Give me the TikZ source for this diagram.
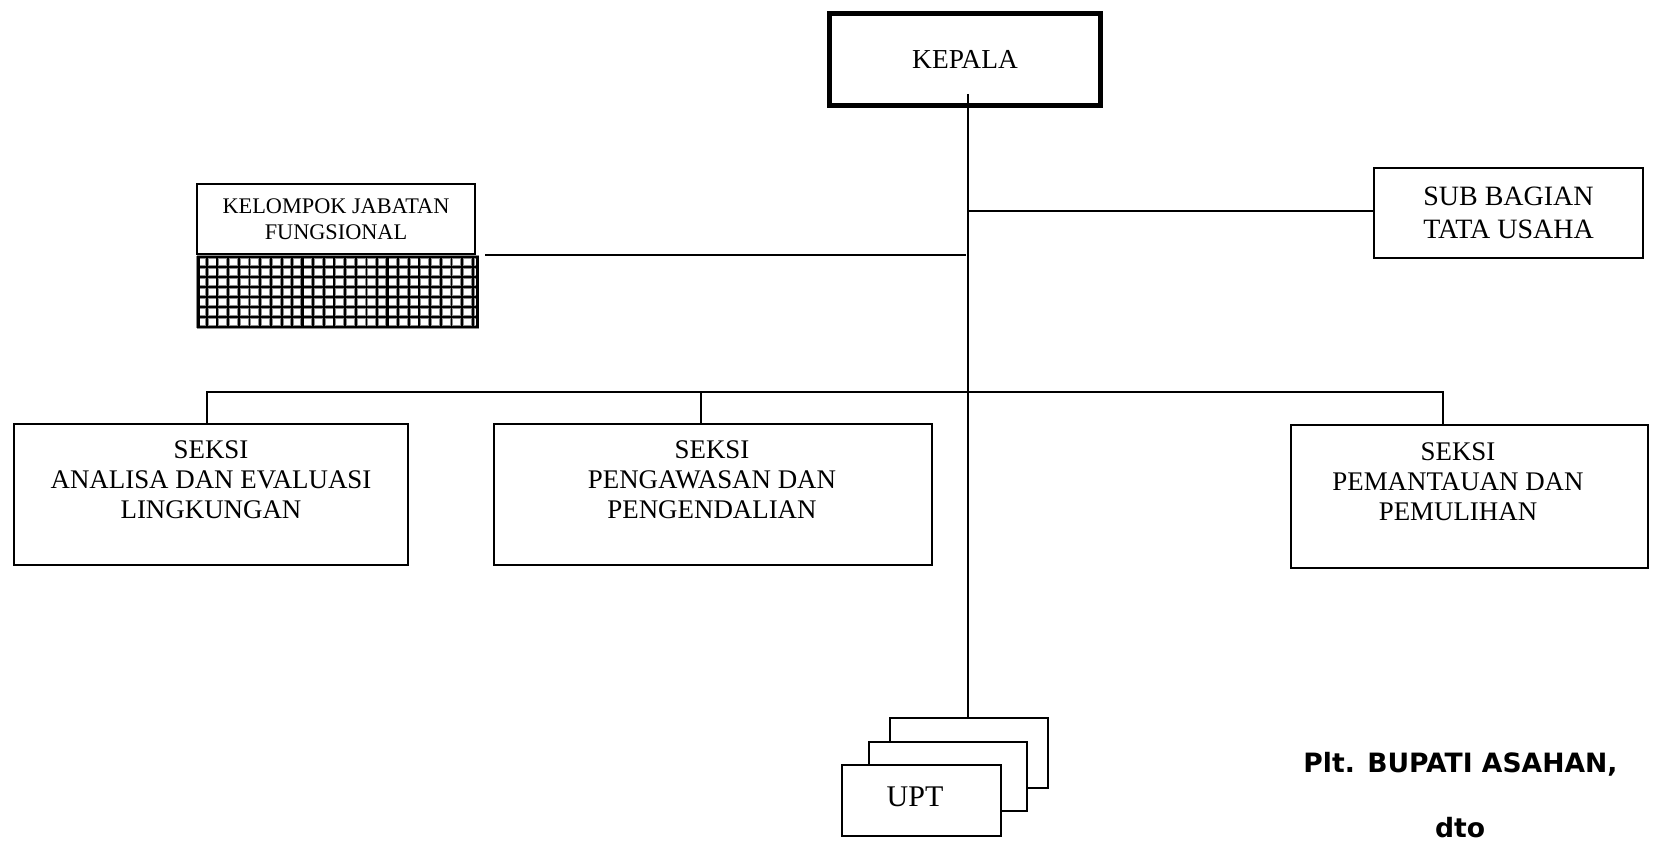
\documentclass[tikz,border=0pt]{standalone}
\usepackage{fontspec}
\setmainfont{Liberation Serif}
\newfontfamily\sigfont{DejaVu Sans}
\begin{document}
\begin{tikzpicture}[x=1pt,y=-1pt,
  box/.style={draw=black, line width=2pt, fill=white, inner sep=0pt, align=center},
  seksitext/.style={inner sep=0pt, align=center, font=\fontsize{26.9}{30}\selectfont},
  link/.style={draw=black, line width=2pt},
  halo/.style={draw=black!45, line width=3.8pt},
  mesh/.style={draw=black, line width=1.9pt},
  sig/.style={inner sep=0pt, anchor=base, font=\sigfont\bfseries\fontsize{26.6}{30}\selectfont}]
\useasboundingbox[fill=white] (0,0) rectangle (1662,842);

% head of office
\node[box, line width=5pt, minimum width=271pt, minimum height=92pt,
      font=\fontsize{27.4}{30}\selectfont] (kepala) at (965,59.5) {KEPALA};

% functional group with its mesh panel
\node[box, minimum width=278pt, minimum height=70pt,
      font=\fontsize{22.3}{26}\selectfont] (kjf) at (336,219) {KELOMPOK JABATAN\\FUNGSIONAL};
\node[inner sep=0pt, minimum width=280pt, minimum height=71pt, fill=white] (kjfgrid) at (338,292) {};
\def\meshcols{198,206.7,217.4,228.1,238.8,249.5,260.2,270.9,281.6,292.3,302.3,
  313,323.7,334.4,345.1,355.8,366.5,377.2,387.3,398,408.7,419.4,430.1,440.8,451.5,462.2,472.9,477.5}
\foreach \x in \meshcols \draw[halo] (\x,256.5) -- (\x,327.5);
\foreach \j in {0,...,7} \draw[halo] (197,{257+\j*10}) -- (479,{257+\j*10});
\foreach \x in \meshcols \draw[mesh] (\x,256.5) -- (\x,327.5);
\foreach \j in {0,...,7} \draw[mesh] (197,{257+\j*10}) -- (479,{257+\j*10});
\foreach \x in {198,302.3,387.3,477.5} \draw[black, line width=3pt] (\x,256.5) -- (\x,328);

% administration sub-division
\node[box, minimum width=269pt, minimum height=90pt,
      font=\fontsize{28}{33}\selectfont] (sub) at (1508.5,213) {SUB BAGIAN\\TATA USAHA};

% sections
\node[box, minimum width=394pt, minimum height=141pt] (s1) at (211,494.5) {};
\node[seksitext] (s1t) at (211,480) {SEKSI\\ANALISA DAN EVALUASI\\LINGKUNGAN};
\node[box, minimum width=438pt, minimum height=141pt] (s2) at (713,494.5) {};
\node[seksitext] (s2t) at (712,480) {SEKSI\\PENGAWASAN DAN\\PENGENDALIAN};
\node[box, minimum width=357pt, minimum height=143pt] (s3) at (1469.5,496.5) {};
\node[seksitext] (s3t) at (1458,482) {SEKSI\\PEMANTAUAN DAN\\PEMULIHAN};

% technical units, stacked
\node[box, minimum width=158pt, minimum height=70pt] (upt3) at (969,753) {};
\node[box, minimum width=158pt, minimum height=69pt] (upt2) at (948,776.5) {};
\node[box, minimum width=159pt, minimum height=71pt] (upt1) at (921.5,800.5) {};
\node[inner sep=0pt, font=\fontsize{30}{34}\selectfont] (upttext) at (915,797) {UPT};

% connectors
\coordinate (stemtop) at (967.5,94);
\draw[link] (stemtop) -- (stemtop |- upt3.north);
\coordinate (subj) at (967.5,210.7);
\draw[link] (subj) -- (subj -| sub.west);
\coordinate (kjfL) at (485,254.7);
\coordinate (kjfR) at (965.7,254.7);
\draw[link] (kjfL) -- (kjfR);
\coordinate (busL) at (207,391.7);
\coordinate (busM) at (701,391.7);
\coordinate (busR) at (1443,391.7);
\draw[link] (busL |- s1.north) -- (busL) -- (busR) -- (busR |- s3.north);
\draw[link] (busM) -- (busM |- s2.north);

% signature
\node[sig] (sign) at (1460.5,772.5) {Plt. BUPATI ASAHAN,};
\node[sig] (dto) at (1460,837) {dto};
\end{tikzpicture}
\end{document}
